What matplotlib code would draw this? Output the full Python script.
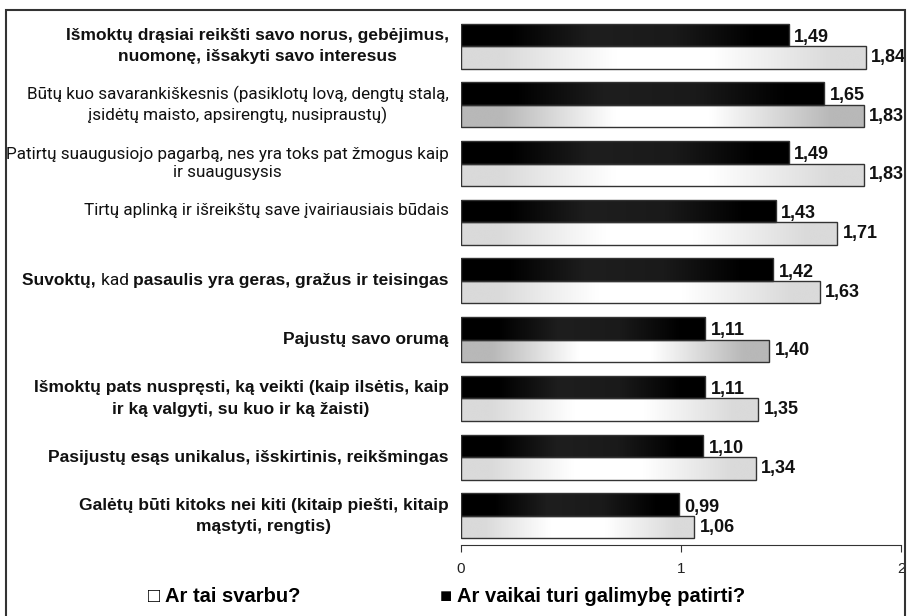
import numpy as np
import matplotlib
matplotlib.use('Agg')
import matplotlib.pyplot as plt
from matplotlib.colors import LinearSegmentedColormap
from matplotlib.patches import Rectangle

labels = [
    'Išmoktų drąsiai reikšti savo norus, gebėjimus,\nnuomonę, išsakyti savo interesus',
    'Būtų kuo savarankiškesnis (pasiklotų lovą, dengtų stalą,\nįsidėtų maisto, apsirengtų, nusipraustų)',
    'Patirtų suaugusiojo pagarbą, nes yra toks pat žmogus kaip\nir suaugusysis',
    'Tirtų aplinką ir išreikštų save įvairiausiais būdais',
    'Suvoktų, kad pasaulis yra geras, gražus ir teisingas',
    'Pajustų savo orumą',
    'Išmoktų pats nuspręsti, ką veikti (kaip ilsėtis, kaip\nir ką valgyti, su kuo ir ką žaisti)',
    'Pasijustų esąs unikalus, išskirtinis, reikšmingas',
    'Galėtų būti kitoks nei kiti (kitaip piešti, kitaip\nmąstyti, rengtis)',
]
bold_label = [True, False, False, False, True, True, True, True, True]
galimybe = [1.49, 1.65, 1.49, 1.43, 1.42, 1.11, 1.11, 1.10, 0.99]
svarbu = [1.84, 1.83, 1.83, 1.71, 1.63, 1.40, 1.35, 1.34, 1.06]
svarbu_end = ['#dadada', '#b8b8b8', '#dadada', '#dadada', '#dadada',
              '#b8b8b8', '#dadada', '#dadada', '#dadada']

BOLD = ['Liberation Sans', 'DejaVu Sans']
REG = ['Roboto', 'DejaVu Sans']

fig = plt.figure(figsize=(9.07, 6.16), dpi=100)
ax = fig.add_axes([461/907, 1 - 545/616, 440/907, 533/616])

h = 0.383
y = np.arange(len(labels))

black_cmap = LinearSegmentedColormap.from_list(
    'blk', [(0, '#000000'), (0.15, '#000000'), (0.4, '#1e1e1e'),
            (0.65, '#1a1a1a'), (0.9, '#000000'), (1, '#000000')])
grad = np.linspace(0, 1, 256).reshape(1, -1)


def fill_gradient(bar, cmap):
    x0, y0 = bar.get_x(), bar.get_y()
    w, hh = bar.get_width(), bar.get_height()
    im = ax.imshow(grad, cmap=cmap, aspect='auto', interpolation='bicubic',
                   extent=[x0, x0 + w, y0 + hh, y0], zorder=2)
    im.set_clip_path(bar)


bars_b = ax.barh(y - h/2, galimybe, height=h, color='none',
                 edgecolor='#333333', linewidth=1, zorder=3)
bars_l = ax.barh(y + h/2, svarbu, height=h, color='none',
                 edgecolor='#333333', linewidth=1, zorder=3)

for i, (bb, bl) in enumerate(zip(bars_b, bars_l)):
    fill_gradient(bb, black_cmap)
    c = svarbu_end[i]
    lcm = LinearSegmentedColormap.from_list(
        'lt%d' % i, [(0, c), (0.1, c), (0.38, '#ffffff'), (0.62, '#ffffff'),
                     (0.92, c), (1, c)])
    fill_gradient(bl, lcm)

for i in range(len(labels)):
    for v, yy in ((galimybe[i], y[i] - h/2 + 0.04), (svarbu[i], y[i] + h/2)):
        ax.annotate(f'{v:.2f}'.replace('.', ','), xy=(v, yy), xytext=(4, 0),
                    textcoords='offset points', ha='left', va='center',
                    fontsize=13, fontweight='bold', family=BOLD, color='#111111')

# category labels
for i, lab in enumerate(labels):
    if i == 4:
        t = ax.annotate('pasaulis yra geras, gražus ir teisingas', xy=(0, y[i]),
                        xytext=(-9, 0), textcoords='offset points',
                        ha='right', va='center', fontsize=12.5, fontweight='bold',
                        family=BOLD, annotation_clip=False, color='#111111')
        t2 = ax.annotate('kad ', xy=(0, 0.5), xycoords=t, ha='right', va='center',
                         fontsize=12.5, family=REG, color='#111111')
        ax.annotate('Suvoktų, ', xy=(0, 0.5), xycoords=t2, ha='right', va='center',
                    fontsize=12.5, fontweight='bold', family=BOLD, color='#111111')
        continue
    if bold_label[i]:
        kw = dict(fontsize=12.5, fontweight='bold', family=BOLD, linespacing=1.55)
    else:
        kw = dict(fontsize=12.3, family=REG, linespacing=1.28)
    yy = y[i] - 0.2 if i == 3 else y[i]
    ax.annotate(lab, xy=(0, yy), xytext=(-9, 0), textcoords='offset points',
                ha='right', va='center', multialignment='center',
                annotation_clip=False, color='#111111', **kw)

ax.set_xlim(0, 2)
ax.set_ylim(len(labels) - 0.506, -0.579)
ax.set_xticks([0, 1, 2])
ax.set_xticklabels(['0', '1', '2'], family=BOLD, fontsize=11, color='#222222')
ax.tick_params(axis='x', direction='out', length=5, pad=7, color='#333333')
ax.set_yticks([])
for s in ['top', 'right', 'left']:
    ax.spines[s].set_visible(False)
ax.spines['bottom'].set_color('#333333')

fig.text(148/907, 1 - 596/616, '□ Ar tai svarbu?', ha='left', va='center',
         fontsize=14.5, fontweight='bold', family=BOLD)
fig.text(440/907, 1 - 596/616, '■ Ar vaikai turi galimybę patirti?', ha='left',
         va='center', fontsize=14.5, fontweight='bold', family=BOLD)

fig.add_artist(Rectangle((6/907, -0.01), (905 - 6)/907, 1 - 10/616 + 0.01,
                         transform=fig.transFigure, fill=False,
                         edgecolor='#333333', linewidth=1.5))

fig.savefig('out.png', dpi=100)
